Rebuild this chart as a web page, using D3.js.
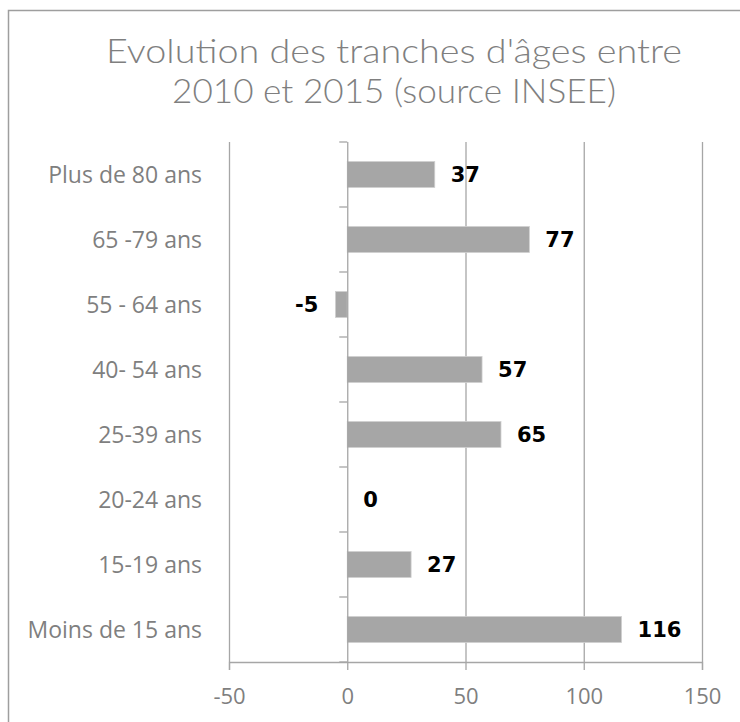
<!DOCTYPE html>
<html>
<head>
<meta charset="utf-8">
<script src="https://cdnjs.cloudflare.com/ajax/libs/d3/7.8.5/d3.min.js"></script>
<style>
  html, body { margin: 0; padding: 0; background: #fff; }
  svg { display: block; }
</style>
</head>
<body>
<svg id="chart" width="740" height="722"></svg>
<script>
// ---- Data ----
const categories = ["Plus de 80 ans", "65 -79 ans", "55 - 64 ans", "40- 54 ans", "25-39 ans", "20-24 ans", "15-19 ans", "Moins de 15 ans"];
const values = [37, 77, -5, 57, 65, 0, 27, 116];
const xTicks = [-50, 0, 50, 100, 150];
const titleLines = ["Evolution des tranches d'âges entre", "2010 et 2015 (source INSEE)"];

// ---- Layout ----
const svg = d3.select("#chart");
const plot = { left: 229, right: 702, top: 142, bottom: 662 };

// outer frame
svg.append("rect")
  .attr("x", 8.5).attr("y", 10.5)
  .attr("width", 760).attr("height", 760)
  .attr("fill", "none").attr("stroke", "#9e9e9e").attr("stroke-width", 1.5);

// title
svg.append("g").selectAll("text").data(titleLines).join("text")
  .attr("x", 394)
  .attr("y", (d, i) => 63 + i * 40)
  .attr("text-anchor", "middle")
  .attr("font-family", "Lato, 'Liberation Sans', sans-serif")
  .attr("font-weight", 300)
  .attr("font-size", 33)
  .attr("fill", "#7f7f7f")
  .attr("textLength", (d, i) => i === 0 ? 576 : 444)
  .attr("lengthAdjust", "spacingAndGlyphs")
  .text(d => d);

const x = d3.scaleLinear().domain([-50, 150]).range([plot.left, plot.right]);
const y = d3.scaleBand().domain(categories).range([plot.top, plot.bottom]).paddingInner(0.6).paddingOuter(0.3);

// vertical gridlines
svg.append("g").selectAll("line").data(xTicks.filter(t => t !== 0)).join("line")
  .attr("x1", d => x(d) + 0.5).attr("x2", d => x(d) + 0.5)
  .attr("y1", plot.top).attr("y2", plot.bottom)
  .attr("stroke", "#a6a6a6").attr("stroke-width", 1.3);

// bars
svg.append("g").selectAll("rect").data(values).join("rect")
  .attr("x", d => x(Math.min(0, d)))
  .attr("y", (d, i) => y(categories[i]))
  .attr("width", d => Math.abs(x(d) - x(0)))
  .attr("height", y.bandwidth())
  .attr("fill", "#a6a6a6")
  .attr("stroke", "#d0d0d0").attr("stroke-width", 0.8);

// bottom axis
const xAxis = svg.append("g")
  .attr("transform", `translate(0,${plot.bottom})`)
  .call(d3.axisBottom(x).tickValues(xTicks).tickSize(8).tickPadding(18).tickFormat(d => String(d)));
xAxis.select(".domain").attr("stroke", "#a6a6a6").attr("stroke-width", 1.3);
xAxis.selectAll(".tick line").attr("stroke", "#a6a6a6").attr("stroke-width", 1.3);
xAxis.selectAll(".tick text")
  .attr("font-family", "'Open Sans', sans-serif")
  .attr("font-size", 22)
  .attr("fill", "#7f7f7f");

// vertical axis at zero with category ticks
const yTickPos = d3.range(categories.length + 1).map(i => plot.top + i * y.step());
svg.append("line")
  .attr("x1", x(0) + 0.5).attr("x2", x(0) + 0.5)
  .attr("y1", plot.top).attr("y2", plot.bottom)
  .attr("stroke", "#a6a6a6").attr("stroke-width", 1.3);
svg.append("g").selectAll("line").data(yTickPos).join("line")
  .attr("x1", x(0) - 8).attr("x2", x(0))
  .attr("y1", d => d).attr("y2", d => d)
  .attr("stroke", "#a6a6a6").attr("stroke-width", 1.3);

// category labels
svg.append("g").selectAll("text").data(categories).join("text")
  .attr("x", 202)
  .attr("y", d => y(d) + y.bandwidth() / 2)
  .attr("dy", "0.35em")
  .attr("text-anchor", "end")
  .attr("font-family", "'Open Sans', sans-serif")
  .attr("font-size", 23)
  .attr("fill", "#7f7f7f")
  .text(d => d);

// value labels
svg.append("g").selectAll("text").data(values).join("text")
  .attr("x", d => d < 0 ? x(d) - 17 : x(d) + 16)
  .attr("y", (d, i) => y(categories[i]) + y.bandwidth() / 2)
  .attr("dy", "0.36em")
  .attr("text-anchor", d => d < 0 ? "end" : "start")
  .attr("font-family", "'DejaVu Sans', sans-serif")
  .attr("font-weight", "bold")
  .attr("font-size", 21)
  .attr("fill", "#000")
  .text(d => d);
</script>
</body>
</html>
